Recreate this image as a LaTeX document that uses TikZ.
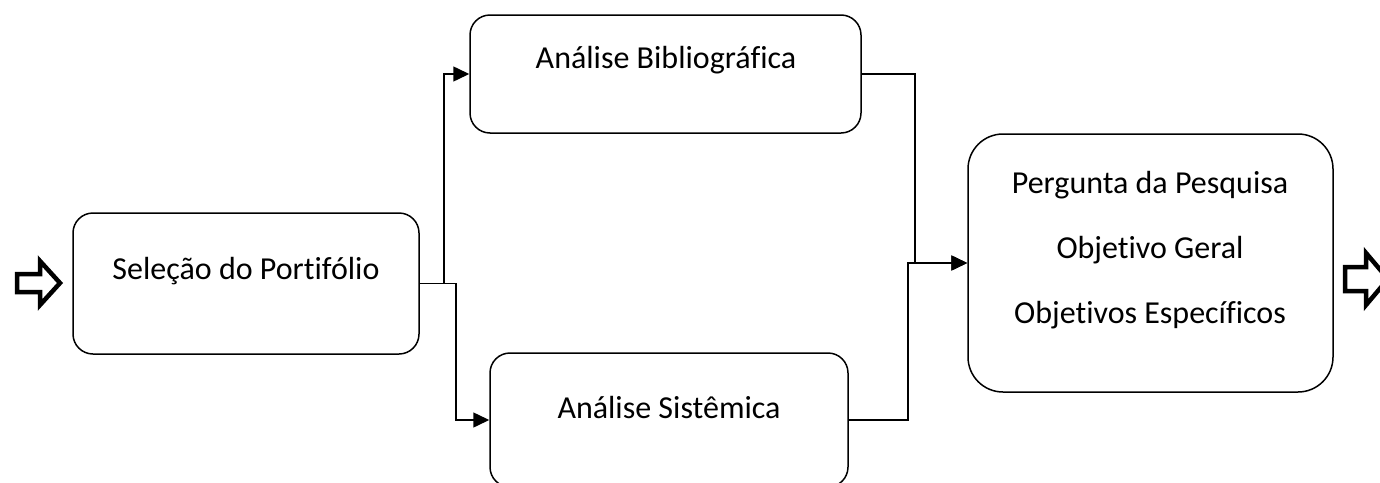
\documentclass[tikz,border=0pt]{standalone}
\usepackage{fontspec}
\setmainfont{Carlito}[RawFeature={-liga}]
\usetikzlibrary{arrows.meta}
\tikzset{
  box/.style={draw, line width=1.5pt, rounded corners=20pt, inner sep=0pt},
  lbl/.style={font=\fontsize{32}{65}\selectfont, inner sep=0pt, align=center},
  arr/.style={line width=1.5pt, -{Triangle[length=16pt,width=15pt]}},
  blockarrow/.style={line width=4.5pt, line join=miter}
}
\begin{document}
\begin{tikzpicture}[x=1pt,y=-1pt]
\useasboundingbox (0,0) rectangle (1380,482);
\clip (0,0) rectangle (1380,482);
\node[box, minimum width=346pt, minimum height=141pt] (A) at (246,283.5) {};
\node[box, minimum width=391pt, minimum height=118pt] (B) at (665.5,74) {};
\node[box, minimum width=358pt, minimum height=134pt] (C) at (669,420) {};
\node[box, rounded corners=35pt, minimum width=365pt, minimum height=258pt] (D) at (1150.5,263) {};
\node[lbl] (tA) at (246,271) {Seleção do Portifólio};
\node[lbl] (tB) at (666,60) {Análise Bibliográfica};
\node[lbl] (tC) at (669,408) {Análise Sistêmica};
\node[lbl] (tD) at (1150,250) {Pergunta da Pesquisa\\Objetivo Geral\\Objetivos Específicos};
\draw[arr] (A.east) -- ++(24,0) |- (B.west);
\draw[arr] (A.east) -- ++(36,0) |- (C.west);
\draw[arr] (B.east) -- ++(53,0) |- (D.west);
\draw[arr] (C.east) -- ++(59,0) |- (D.west);
\draw[blockarrow] (17,274) -- (40,274) -- (40,261) -- (60,283) -- (40,305) -- (40,292) -- (17,292) -- cycle;
\draw[blockarrow] (1345,267) -- (1366,267) -- (1366,253) -- (1388,279) -- (1366,305) -- (1366,291) -- (1345,291) -- cycle;
\end{tikzpicture}
\end{document}
